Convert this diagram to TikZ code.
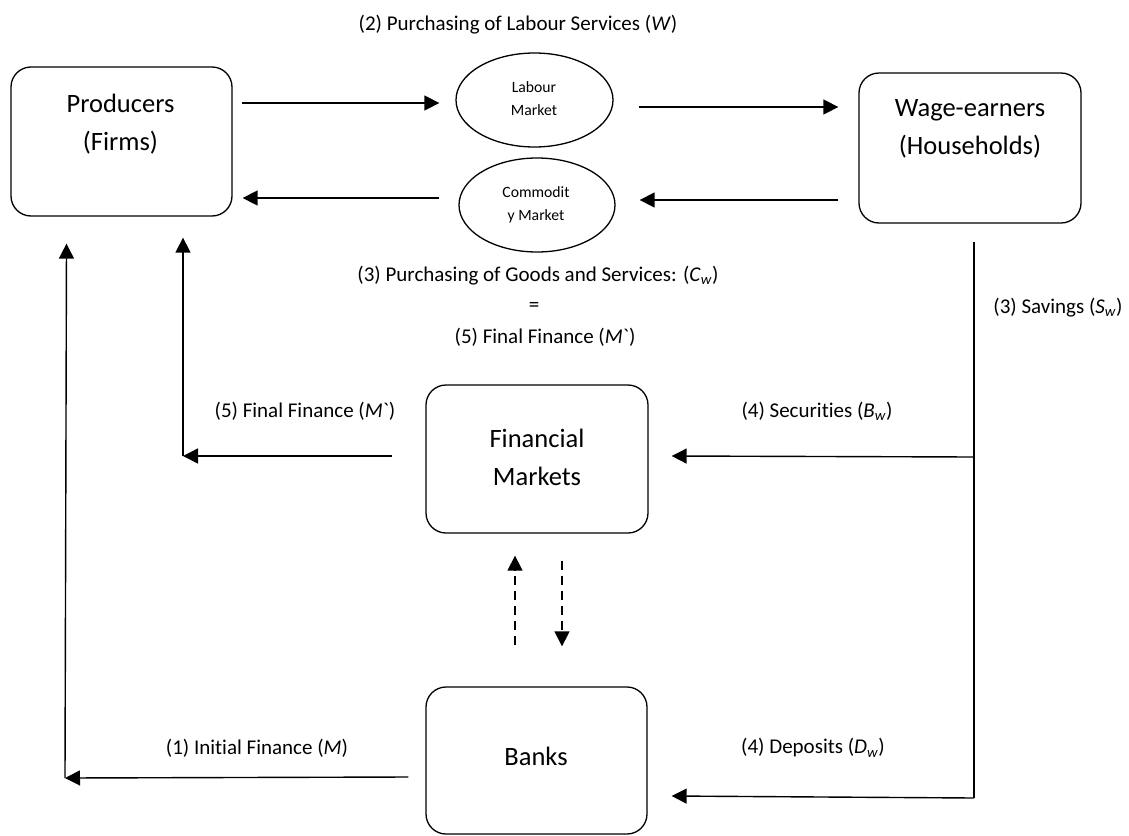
\documentclass[tikz,border=0pt]{standalone}
\usepackage{fontspec}
\newfontfamily\carl{Carlito}[Ligatures=NoCommon]
\usetikzlibrary{arrows.meta,shapes.geometric}
\begin{document}
\begin{tikzpicture}[x=1pt,y=-1pt,
  box/.style={draw, line width=1.3pt, rounded corners=20pt, inner sep=0pt},
  mkt/.style={draw, ellipse, line width=1.3pt, inner sep=0pt},
  boxtxt/.style={font=\carl\fontsize{26.5}{38}\selectfont, align=center, inner sep=0pt},
  mkttxt/.style={font=\carl\fontsize{15.7}{23}\selectfont, align=center, inner sep=0pt},
  lab/.style={font=\carl\fontsize{21}{25}\selectfont, inner sep=0pt},
  arr/.style={line width=1.4pt, -{Triangle[length=15pt,width=15pt]}},
  plain/.style={line width=1.4pt},
  dsh/.style={arr, dash pattern=on 9pt off 6pt}]
\useasboundingbox (0,0) rectangle (1129,835);

% boxes and markets
\node[box, minimum width=221pt, minimum height=149pt] (prod) at (121.5,141.5) {};
\node[boxtxt] (prodtxt) at (120.5,124) {Producers\\(Firms)};
\node[box, minimum width=222pt, minimum height=150pt] (wage) at (970,148) {};
\node[boxtxt] (wagetxt) at (970,129) {Wage-earners\\(Households)};
\node[box, minimum width=222pt, minimum height=148pt] (fin) at (537,459) {};
\node[boxtxt] (fintxt) at (537,457) {Financial\\Markets};
\node[box, minimum width=221pt, minimum height=147pt] (banks) at (536.5,760.5) {};
\node[boxtxt] (bankstxt) at (536,756) {Banks};
\node[mkt, minimum width=157pt, minimum height=94pt] (labour) at (534.5,100) {};
\node[mkttxt] (labourtxt) at (534,99) {Labour\\Market};
\node[mkt, minimum width=156pt, minimum height=94pt] (comm) at (537,205) {};
\node[mkttxt] (commtxt) at (536,205) {Commodit\\y Market};

% labels
\node[lab] (t2) at (518,25) {(2) Purchasing of Labour Services (\textit{W})};
\node[lab] (t3) at (538,276) {(3) Purchasing of Goods and Services: (\textit{C}\textsubscript{\textit{w}})};
\node[lab] (teq) at (534,307) {=};
\node[lab] (t5a) at (545,337) {(5) Final Finance (\textit{M}`)};
\node[lab] (t5b) at (305,411) {(5) Final Finance (\textit{M}`)};
\node[lab] (tsav) at (1058,308) {(3) Savings (\textit{S}\textsubscript{\textit{w}})};
\node[lab] (tsec) at (817,411) {(4) Securities (\textit{B}\textsubscript{\textit{w}})};
\node[lab] (tinit) at (257,748) {(1) Initial Finance (\textit{M})};
\node[lab] (tdep) at (813,748) {(4) Deposits (\textit{D}\textsubscript{\textit{w}})};

% top flows
\draw[arr] ([xshift=9pt]prod.east |- 0,103) -- ([xshift=-16pt]labour.west |- 0,103);
\draw[arr] ([xshift=25pt]labour.east |- 0,107) -- ([xshift=-20pt]wage.west |- 0,107);
\draw[arr] ([xshift=-20pt]wage.west |- 0,200) -- ([xshift=24pt]comm.east |- 0,200);
\draw[arr] ([xshift=-19pt]comm.west |- 0,198) -- ([xshift=10pt]prod.east |- 0,198);

% savings split
\coordinate (savtop) at (974,242);
\coordinate (savsec) at (974,457);
\coordinate (savdep) at (974,798);
\draw[plain] (savtop) -- (savdep);
\draw[arr] (savsec) -- ([xshift=23pt]fin.east |- 0,456);
\draw[arr] (savdep) -- ([xshift=24pt]banks.east |- 0,796);

% final finance
\coordinate (ffc) at (183,456);
\draw[arr] ([xshift=-33pt]fin.west |- 0,456) -- (ffc);
\draw[arr] (ffc) -- ([xshift=61.5pt,yshift=-21pt]prod.south);

% initial finance
\coordinate (ifc) at (65,778);
\draw[arr] ([xshift=-17pt]banks.west |- 0,777) -- (ifc);
\draw[arr] (ifc) -- ([xshift=-55pt,yshift=-27pt]prod.south);

% dashed exchanges
\draw[dsh] ([xshift=-21.5pt,yshift=41pt]banks.north) -- ([xshift=-22pt,yshift=-22pt]fin.south);
\draw[dsh] ([xshift=25pt,yshift=-27pt]fin.south) -- ([xshift=25.5pt,yshift=40pt]banks.north);
\end{tikzpicture}
\end{document}
